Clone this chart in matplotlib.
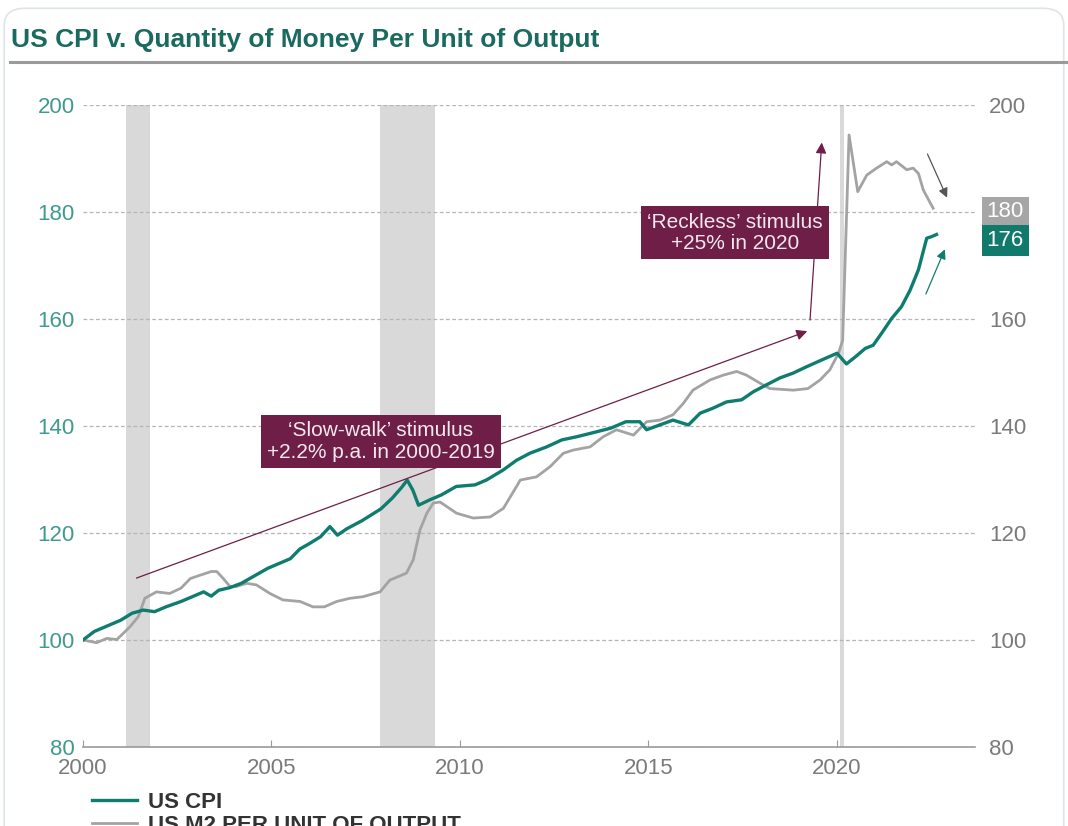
import matplotlib
matplotlib.use('Agg')
import matplotlib.pyplot as plt
import matplotlib.transforms as mtransforms
from matplotlib.patches import FancyBboxPatch
from matplotlib.lines import Line2D

plt.rcParams['font.family'] = ['Liberation Sans Narrow', 'Liberation Sans', 'DejaVu Sans']

# colours
TEAL = '#0f7c70'
TEAL_DARK = '#1b6a5f'
TEAL_TICK = '#3f9a90'
GREY_LINE = '#a3a3a3'
GREY_TEXT = '#7a7a7a'
MAROON = '#6e1e47'

# data (index, 2000 = 100)
cpi_years = [2000.0, 2000.3, 2000.6, 2001.0, 2001.3, 2001.6, 2001.9, 2002.2, 2002.6, 2002.9,
             2003.2, 2003.4, 2003.6, 2003.9, 2004.2, 2004.5, 2004.9, 2005.2, 2005.5, 2005.75,
             2006.0, 2006.3, 2006.55, 2006.75, 2007.0, 2007.4, 2007.9, 2008.2, 2008.45, 2008.6,
             2008.75, 2008.9, 2009.2, 2009.5, 2009.9, 2010.4, 2010.7, 2011.15, 2011.5, 2011.85,
             2012.3, 2012.7, 2013.1, 2013.5, 2014.0, 2014.4, 2014.77, 2014.95, 2015.3, 2015.65,
             2016.06, 2016.37, 2016.7, 2017.07, 2017.47, 2017.78, 2018.13, 2018.49, 2018.84, 2019.2,
             2019.55, 2020.0, 2020.25, 2020.5, 2020.75, 2020.96, 2021.18, 2021.45, 2021.71, 2021.94,
             2022.16, 2022.38, 2022.51, 2022.64]
cpi_values = [100.0, 101.6, 102.5, 103.7, 105.0, 105.6, 105.3, 106.2, 107.2, 108.1,
              109.0, 108.2, 109.3, 109.8, 110.6, 111.8, 113.4, 114.3, 115.2, 117.0,
              118.0, 119.3, 121.2, 119.6, 120.8, 122.3, 124.5, 126.5, 128.5, 129.9,
              128.0, 125.2, 126.2, 127.1, 128.7, 129.0, 129.9, 131.8, 133.6, 134.9,
              136.1, 137.4, 138.0, 138.7, 139.6, 140.8, 140.8, 139.3, 140.2, 141.1,
              140.2, 142.4, 143.3, 144.5, 144.9, 146.4, 147.7, 149.0, 149.9, 151.1,
              152.2, 153.6, 151.6, 153.0, 154.5, 155.1, 157.3, 160.1, 162.3, 165.4,
              169.2, 175.1, 175.4, 175.8]

m2_years = [2000.0, 2000.36, 2000.63, 2000.9, 2001.25, 2001.47, 2001.64, 2001.95, 2002.3, 2002.6,
            2002.85, 2003.1, 2003.4, 2003.55, 2003.72, 2003.9, 2004.07, 2004.34, 2004.6, 2004.96,
            2005.3, 2005.76, 2006.1, 2006.4, 2006.73, 2007.08, 2007.43, 2007.88, 2008.14, 2008.58,
            2008.76, 2008.94, 2009.12, 2009.29, 2009.47, 2009.91, 2010.35, 2010.8, 2011.15, 2011.5,
            2011.6, 2012.03, 2012.39, 2012.74, 2013.0, 2013.45, 2013.8, 2014.15, 2014.6, 2014.95,
            2015.3, 2015.65, 2015.92, 2016.18, 2016.63, 2016.98, 2017.34, 2017.6, 2017.96, 2018.22,
            2018.84, 2019.23, 2019.55, 2019.81, 2020.04, 2020.15, 2020.32, 2020.55, 2020.79, 2021.05,
            2021.32, 2021.45, 2021.58, 2021.85, 2022.02, 2022.16, 2022.29, 2022.55]
m2_values = [100.0, 99.5, 100.3, 100.1, 102.5, 104.4, 107.8, 109.0, 108.7, 109.7,
             111.5, 112.1, 112.8, 112.8, 111.5, 110.0, 110.0, 110.6, 110.3, 108.7,
             107.5, 107.2, 106.2, 106.2, 107.2, 107.8, 108.1, 109.0, 111.2, 112.5,
             115.0, 120.6, 123.7, 125.6, 125.8, 123.7, 122.8, 123.0, 124.6, 128.7,
             129.9, 130.5, 132.4, 134.9, 135.5, 136.1, 138.0, 139.3, 138.3, 140.8,
             141.1, 142.1, 144.2, 146.7, 148.6, 149.5, 150.2, 149.5, 148.0, 147.0,
             146.7, 147.0, 148.6, 150.5, 153.6, 156.0, 194.4, 183.8, 186.9, 188.2,
             189.4, 188.8, 189.4, 187.9, 188.2, 187.2, 184.1, 180.7]

recession_starts = [2001.13, 2007.88, 2020.08]
recession_ends = [2001.78, 2009.34, 2020.19]

cpi_last = 176
m2_last = 180

fig = plt.figure(figsize=(10.68, 8.26), dpi=100)

# card frame + title
card = FancyBboxPatch((0.004, -0.05), 0.992, 1.04, transform=fig.transFigure,
                      boxstyle='round,pad=0,rounding_size=0.02', fc='none', ec='#dfe4e8', lw=1.2)
fig.patches.append(card)
fig.text(0.010, 0.951, 'US CPI v. Quantity of Money Per Unit of Output', fontsize=19,
         fontweight='bold', color=TEAL_DARK, ha='left', va='center')
fig.lines.append(Line2D([0.009, 0.999], [0.925, 0.925], transform=fig.transFigure,
                        color='#9a9a9a', lw=2.2))

ax = fig.add_axes([0.0777, 0.0956, 0.8352, 0.7773])
ax.set_xlim(2000, 2023.66)
ax.set_ylim(80, 200)

for s, e in zip(recession_starts, recession_ends):
    ax.axvspan(s, e, color='#d9d9d9', lw=0, zorder=0)

m2_line, = ax.plot(m2_years, m2_values, color=GREY_LINE, lw=2.0, zorder=3,
                   label='US M2 PER UNIT OF OUTPUT')
cpi_line, = ax.plot(cpi_years, cpi_values, color=TEAL, lw=2.4, zorder=4, label='US CPI')

# axes styling
ax.set_yticks(range(80, 201, 20))
ax.set_xticks(range(2000, 2021, 5))
ax.grid(axis='y', color='#b5b5b5', lw=0.9, ls=(0, (3, 2)))
ax.grid(axis='x', visible=False)
for side in ['left', 'right', 'top']:
    ax.spines[side].set_visible(False)
ax.spines['bottom'].set_color('#9a9a9a')
ax.spines['bottom'].set_linewidth(1.2)
ax.tick_params(axis='y', length=0, labelsize=16, labelcolor=TEAL_TICK, pad=6)
ax.tick_params(axis='x', direction='in', length=5, color='#9a9a9a', labelsize=16,
               labelcolor=GREY_TEXT, pad=8)

# right axis: 180 is replaced by the value box
ax2 = ax.twinx()
ax2.set_ylim(ax.get_ylim())
ax2.set_yticks([80, 100, 120, 140, 160, 200])
ax2.tick_params(axis='y', length=0, labelsize=16, labelcolor=GREY_TEXT, pad=10)
for side in ax2.spines:
    ax2.spines[side].set_visible(False)

# annotations
arrow_kw = dict(arrowstyle='-|>', color=MAROON, lw=0.9, mutation_scale=16)
ax.annotate('', xy=(2019.28, 157.9), xytext=(2001.35, 111.4), arrowprops=arrow_kw, zorder=5)
ax.annotate('', xy=(2019.6, 193.5), xytext=(2019.28, 159.3), arrowprops=arrow_kw, zorder=5)
ax.annotate('', xy=(2022.95, 182.2), xytext=(2022.37, 191.3),
            arrowprops=dict(arrowstyle='-|>', color='#555555', lw=0.9, mutation_scale=14))
ax.annotate('', xy=(2022.89, 173.5), xytext=(2022.33, 164.2),
            arrowprops=dict(arrowstyle='-|>', color=TEAL, lw=0.9, mutation_scale=14))

box_kw = dict(boxstyle='square,pad=0.3', fc=MAROON, ec='none')
ax.text(2007.9, 137.1, '\u2018Slow-walk\u2019 stimulus\n+2.2% p.a. in 2000-2019', ha='center',
        va='center', fontsize=15, color='#f4e8ee', bbox=box_kw, zorder=6, linespacing=1.15)
ax.text(2017.29, 176.1, '\u2018Reckless\u2019 stimulus\n+25% in 2020', ha='center',
        va='center', fontsize=15, color='#f4e8ee', bbox=box_kw, zorder=6, linespacing=1.15)

# end-value labels on the right
trans = mtransforms.blended_transform_factory(ax.transAxes, ax.transData)
ax.text(1.034, m2_last, str(m2_last), transform=trans, ha='center', va='center', fontsize=16,
        color='white', bbox=dict(boxstyle='square,pad=0.22', fc='#a6a6a6', ec='none'),
        clip_on=False, zorder=10)
ax.text(1.034, m2_last - 5.4, str(cpi_last), transform=trans, ha='center', va='center',
        fontsize=16, color='white', bbox=dict(boxstyle='square,pad=0.22', fc='#127a6c', ec='none'),
        clip_on=False, zorder=10)

fig.legend(handles=[cpi_line, m2_line], loc='upper left', bbox_to_anchor=(0.078, 0.052),
           frameon=False, prop={'weight': 'bold', 'size': 16}, labelcolor='#333333',
           handlelength=2.0, handletextpad=0.5, labelspacing=0.1, borderaxespad=0)

fig.savefig('out.png', dpi=100)
